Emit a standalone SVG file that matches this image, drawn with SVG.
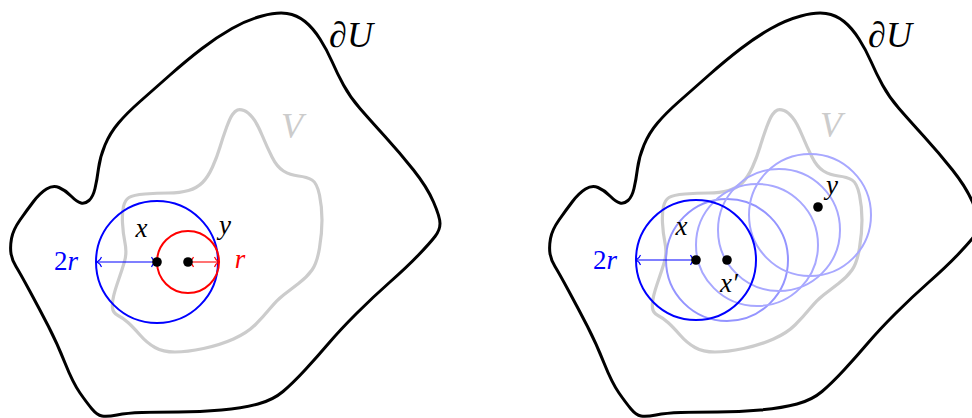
<svg xmlns="http://www.w3.org/2000/svg" xmlns:xlink="http://www.w3.org/1999/xlink" width="972" height="418" viewBox="0 0 972 418">
<style>
.outer{fill:none;stroke:#000;stroke-width:3;stroke-linejoin:round}
.vset{fill:none;stroke:#cccccc;stroke-width:3.2}
.bl{fill:none;stroke:#0000ff;stroke-width:2}
.lb{fill:none;stroke:#a8a8ff;stroke-width:2}
.lb2{fill:none;stroke:#9494ff;stroke-width:2}
.rd{fill:none;stroke:#ff0000;stroke-width:2}
.dot{fill:#000}
.lbl{font-family:"Liberation Serif","DejaVu Serif",serif;font-style:italic;text-anchor:middle}
.up{font-style:normal}
.big{font-size:36px}
.sm{font-size:27px}
</style>
<defs>
<marker id="ab" viewBox="-7 -7 10 14" refX="0" refY="0" markerWidth="10" markerHeight="14" markerUnits="userSpaceOnUse" orient="auto-start-reverse">
<path d="M-4.5,-5 C-3.5,-2 -1,-0.5 0,0 C-1,0.5 -3.5,2 -4.5,5" fill="none" stroke="#0000ff" stroke-width="1.1"/>
</marker>
<marker id="ar" viewBox="-7 -7 10 14" refX="0" refY="0" markerWidth="10" markerHeight="14" markerUnits="userSpaceOnUse" orient="auto-start-reverse">
<path d="M-4.5,-5 C-3.5,-2 -1,-0.5 0,0 C-1,0.5 -3.5,2 -4.5,5" fill="none" stroke="#ff0000" stroke-width="1.1"/>
</marker>
<path id="U" d="M11,253.5 Q10,247 11.5,238.5 T20,220 T33.5,201.5 T46.5,189 T59,187.5 T71,196 T81,203 T89,200.5 T95,188.5 T98.5,168.5 T105,145 T118.5,123 T140,101.5 T170,75 T202,48.5 T232,28.5 T262,16 T287,13.5 T305,21.5 T320,39 T332,61.5 T343.5,85 T360,108.5 T385,136.5 T413.5,170 T433.5,202 T440,223.5 T435,236.5 T418.5,255 T390,282 T356.5,313.5 T328.5,343.5 T305,370 T283,391.5 T258,404 T221.5,410 T178.5,412 T142,412.5 T117,415 T102,416 T92,409 T80,393 T65,363 T48.5,326.5 T30,291.5 T16,266.5 T11,253.5 Z"/>
<path id="V" d="M237.5,110 Q240,109 244,110.5 T252.5,117.5 T262,135 T272,157 T283.5,171 T298.5,176 T312,180 T319.5,195 T322,220 T319.5,248 T312,270 T298.5,283.5 T283.5,295 T270,308.5 T255,325 T233.5,339 T203.5,348.5 T175,352 T155,347.5 T140,335 T128,322.5 T118,315.5 T112.5,308 T113.5,296.5 T118.5,280 T124.5,261.5 T125,243 T122.5,223 T123.5,206.5 T129,197.5 T145,194 T168.5,193 T188.5,190.5 T202.5,182.5 T212.5,167 T220,147 T226.5,127.5 T232.5,114.5 T237.5,110 Z"/>
</defs>

<g id="left-panel">
  <g id="U-left"><use xlink:href="#U" href="#U" class="outer"/><text class="lbl big" x="351" y="47"><tspan class="up">∂</tspan>U</text></g>
  <g id="V-left"><use xlink:href="#V" href="#V" class="vset"/><text class="lbl big" x="292" y="138" fill="#cccccc">V</text></g>
  <g id="ball-2r-left"><circle class="bl" cx="157" cy="262" r="61"/></g>
  <g id="ball-r-left"><circle class="rd" cx="188" cy="262" r="31"/></g>
  <g id="connectors-left">
    <line x1="97" y1="262" x2="156" y2="262" stroke="#0000ff" stroke-width="1.1" marker-start="url(#ab)" marker-end="url(#ab)"/>
    <line x1="189" y1="262" x2="219" y2="262" stroke="#ff0000" stroke-width="1.1" marker-start="url(#ar)" marker-end="url(#ar)"/>
  </g>
  <g id="x-left"><circle class="dot" cx="157" cy="262" r="4.8"/><text class="lbl sm" x="141.5" y="237">x</text></g>
  <g id="y-left"><circle class="dot" cx="188" cy="262" r="4.8"/><text class="lbl sm" x="225" y="234">y</text></g>
  <text class="lbl sm" x="66" y="270" fill="#0000ff"><tspan class="up">2</tspan>r</text>
  <text class="lbl sm" x="240" y="268" fill="#ff0000">r</text>
</g>

<g id="right-panel">
  <g id="U-right"><use xlink:href="#U" href="#U" class="outer" transform="translate(539,0)"/><text class="lbl big" x="890" y="47"><tspan class="up">∂</tspan>U</text></g>
  <g id="V-right"><use xlink:href="#V" href="#V" class="vset" transform="translate(540,0)"/><text class="lbl big" x="831" y="137" fill="#cccccc">V</text></g>
  <g id="chain">
    <circle class="lb2" cx="727" cy="260" r="61"/>
    <circle class="lb" cx="757" cy="245" r="61"/>
    <circle class="lb" cx="779" cy="230" r="61"/>
    <circle class="lb" cx="810" cy="215" r="61"/>
  </g>
  <g id="ball-2r-right"><circle class="bl" cx="696" cy="260" r="60"/></g>
  <g id="connectors-right">
    <line x1="636" y1="260" x2="695" y2="260" stroke="#0000ff" stroke-width="1.1" marker-start="url(#ab)" marker-end="url(#ab)"/>
  </g>
  <g id="x-right"><circle class="dot" cx="696" cy="260" r="4.8"/><text class="lbl sm" x="681.5" y="235">x</text></g>
  <g id="xp-right"><circle class="dot" cx="727" cy="260" r="4.8"/><text class="lbl sm" x="729" y="292">x′</text></g>
  <g id="y-right"><circle class="dot" cx="818" cy="207" r="4.8"/><text class="lbl sm" x="832" y="194">y</text></g>
  <text class="lbl sm" x="605" y="269" fill="#0000ff"><tspan class="up">2</tspan>r</text>
</g>
</svg>
